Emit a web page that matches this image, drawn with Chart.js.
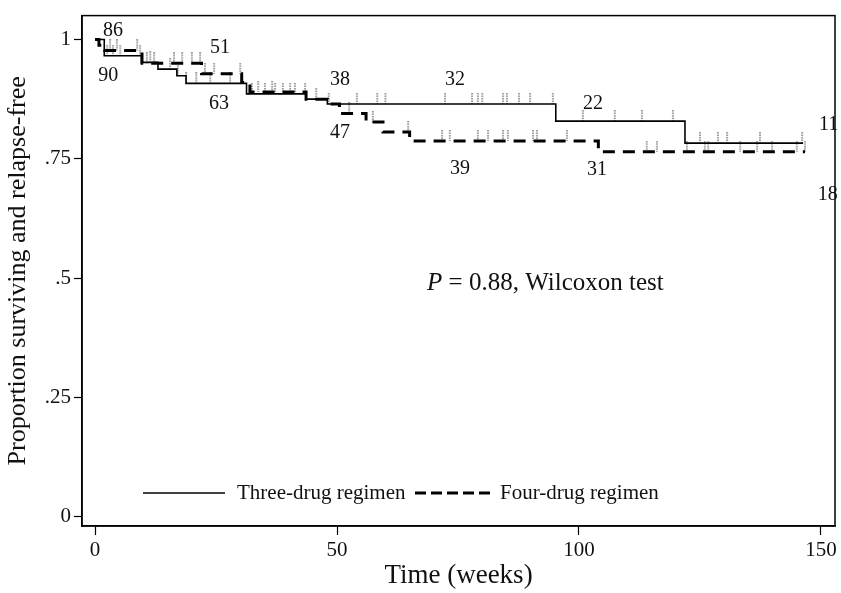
<!DOCTYPE html>
<html>
<head>
  <title>Relapse-free survival</title>
  <script src="https://cdn.jsdelivr.net/npm/chart.js"></script>
  <style>
    body { margin: 0; background: #fff; }
    #wrap { width: 841px; height: 593px; }
  </style>
</head>
<body>
  <div id="wrap"><canvas id="kmChart"></canvas></div>

  <script>
    // Kaplan-Meier step points (week, proportion after the step)
    const threeWeeks = [0, 1.9, 9.6, 13, 16.9, 18.8, 31.3, 43.6, 48, 95.2, 121.9, 146.3];
    const threeSurv  = [1, 0.966, 0.952, 0.938, 0.924, 0.908, 0.886, 0.875, 0.865, 0.829, 0.783, 0.783];
    const fourWeeks  = [0, 0.8, 2, 9.7, 22, 30.3, 32, 43.6, 48, 50.5, 56, 59.5, 65, 104, 146.7];
    const fourSurv   = [1, 0.988, 0.977, 0.95, 0.928, 0.91, 0.89, 0.875, 0.865, 0.845, 0.827, 0.806, 0.7875, 0.765, 0.765];

    // censored observations (weeks)
    const threeCensor = [2.5, 3.7, 5.2, 9.3, 11.4, 15.5, 17.1, 18.8, 20.9, 23.8, 27.9, 32.4, 35.1,
      37.2, 38.8, 40.3, 41.3, 43.4, 45.7, 48.3, 54.1, 58.3, 60, 72.3, 77.9, 79.1, 80, 84.3, 85.1,
      87.6, 89.9, 94.6, 100.8, 107.4, 113, 119.4, 125, 128.7, 130.6, 137.4, 146.1];
    const fourCensor = [3.1, 4.5, 8.7, 10.7, 12.2, 16.3, 18, 20, 21.7, 22.7, 24.6, 30, 33.7, 36.6,
      52.5, 57.4, 64.7, 71.7, 73.3, 79.1, 81.2, 84.3, 85.3, 90.5, 91.3, 97.5, 114, 116.1, 122.3,
      126, 126.7, 133.3, 136.8, 139.9, 145, 146.7];

    // numbers at risk written on the plot
    const riskText  = ['86', '90', '51', '63', '38', '47', '32', '39', '22', '31', '11', '18'];
    const riskWeek  = [3.7, 2.7, 25.8, 25.6, 50.6, 50.6, 74.4, 75.4, 102.9, 103.7, 151.6, 151.4];
    const riskLevel = [1.019, 0.925, 0.983, 0.865, 0.915, 0.804, 0.915, 0.729, 0.865, 0.727, 0.821, 0.675];

    const xTicks = [0, 50, 100, 150];
    const yTicks = [0, 0.25, 0.5, 0.75, 1];
    const seriesNames = ['Three-drug regimen', 'Four-drug regimen'];

    const FONT = 'Liberation Serif, Times New Roman, serif';

    function stepValue(weeks, surv, t) {
      let v = surv[0];
      for (let i = 0; i < weeks.length; i++) {
        if (weeks[i] <= t) v = surv[i];
      }
      return v;
    }

    // small grey censoring tick that sits above the point
    const tickMark = document.createElement('canvas');
    tickMark.width = 4;
    tickMark.height = 22;
    const tctx = tickMark.getContext('2d');
    tctx.strokeStyle = '#9a9a9a';
    tctx.lineWidth = 2;
    tctx.setLineDash([1.5, 1]);
    tctx.beginPath();
    tctx.moveTo(2, 0);
    tctx.lineTo(2, 11);
    tctx.stroke();

    const boxPlugin = {
      id: 'box',
      afterDraw(chart) {
        const { ctx, chartArea: a, scales } = chart;
        ctx.save();
        ctx.strokeStyle = '#000';
        ctx.lineWidth = 1.5;
        ctx.strokeRect(a.left, a.top, a.right - a.left, a.bottom - a.top);

        // at-risk numbers
        ctx.fillStyle = '#111';
        ctx.font = '20px ' + FONT;
        ctx.textAlign = 'center';
        ctx.textBaseline = 'middle';
        riskText.forEach((t, i) => {
          ctx.fillText(t, scales.x.getPixelForValue(riskWeek[i]), scales.y.getPixelForValue(riskLevel[i]));
        });

        // test annotation
        ctx.font = 'italic 25px ' + FONT;
        ctx.textAlign = 'left';
        const px = scales.x.getPixelForValue(68.6);
        const py = scales.y.getPixelForValue(0.49);
        ctx.fillText('P', px, py);
        const w = ctx.measureText('P').width;
        ctx.font = '25px ' + FONT;
        ctx.fillText(' = 0.88, Wilcoxon test', px + w, py);

        // legend inside the plot
        const ly = a.bottom - 33;
        ctx.font = '21px ' + FONT;
        ctx.strokeStyle = '#000';
        ctx.lineWidth = 1.5;
        ctx.beginPath();
        ctx.moveTo(a.left + 61, ly);
        ctx.lineTo(a.left + 143, ly);
        ctx.stroke();
        ctx.fillText(seriesNames[0], a.left + 155, ly);
        ctx.lineWidth = 3;
        ctx.setLineDash([11, 5]);
        ctx.beginPath();
        ctx.moveTo(a.left + 333, ly);
        ctx.lineTo(a.left + 409, ly);
        ctx.stroke();
        ctx.setLineDash([]);
        ctx.fillText(seriesNames[1], a.left + 418, ly);
        ctx.restore();
      }
    };

    const ctx = document.getElementById('kmChart').getContext('2d');
    new Chart(ctx, {
      type: 'line',
      data: {
        datasets: [
          {
            label: seriesNames[0],
            data: threeWeeks.map((t, i) => ({ x: t, y: threeSurv[i] })),
            stepped: 'before',
            borderColor: '#000',
            borderWidth: 1.6,
            pointRadius: 0,
            fill: false,
            order: 1
          },
          {
            label: seriesNames[1],
            data: fourWeeks.map((t, i) => ({ x: t, y: fourSurv[i] })),
            stepped: 'before',
            borderColor: '#000',
            borderWidth: 3,
            borderDash: [12, 8],
            pointRadius: 0,
            fill: false,
            order: 1
          },
          {
            type: 'scatter',
            label: 'censored three',
            data: threeCensor.map(t => ({ x: t, y: stepValue(threeWeeks, threeSurv, t) })),
            pointStyle: tickMark,
            order: 2
          },
          {
            type: 'scatter',
            label: 'censored four',
            data: fourCensor.map(t => ({ x: t, y: stepValue(fourWeeks, fourSurv, t) })),
            pointStyle: tickMark,
            order: 2
          }
        ]
      },
      options: {
        responsive: true,
        maintainAspectRatio: false,
        animation: false,
        layout: { padding: { top: 13, right: 6, left: 0, bottom: 0 } },
        plugins: { legend: { display: false }, tooltip: { enabled: false } },
        scales: {
          x: {
            type: 'linear',
            min: -2.7,
            max: 152.9,
            afterBuildTicks: s => { s.ticks = xTicks.map(v => ({ value: v })); },
            afterFit: s => { s.height = 67; },
            grid: { drawOnChartArea: false, tickLength: 9, color: '#000', tickWidth: 1.2 },
            border: { display: true, color: '#000', width: 1.5 },
            ticks: { color: '#111', font: { family: FONT, size: 21 }, padding: 3, maxRotation: 0 },
            title: { display: true, text: 'Time (weeks)', color: '#111', font: { family: FONT, size: 27 }, padding: { top: 0, bottom: 1 } }
          },
          y: {
            min: -0.019,
            max: 1.05,
            afterBuildTicks: s => { s.ticks = yTicks.map(v => ({ value: v })); },
            afterFit: s => { s.width = 82; },
            grid: { drawOnChartArea: false, tickLength: 8, color: '#000', tickWidth: 1.2 },
            border: { display: true, color: '#000', width: 1.5 },
            ticks: {
              color: '#111',
              font: { family: FONT, size: 21 },
              padding: 3,
              callback: v => (v === 0 || v === 1) ? String(v) : String(v).replace('0.', '.')
            },
            title: { display: true, text: 'Proportion surviving and relapse-free', color: '#111', font: { family: FONT, size: 26 }, padding: { top: 3, bottom: 0 } }
          }
        }
      },
      plugins: [boxPlugin]
    });
  </script>
</body>
</html>
